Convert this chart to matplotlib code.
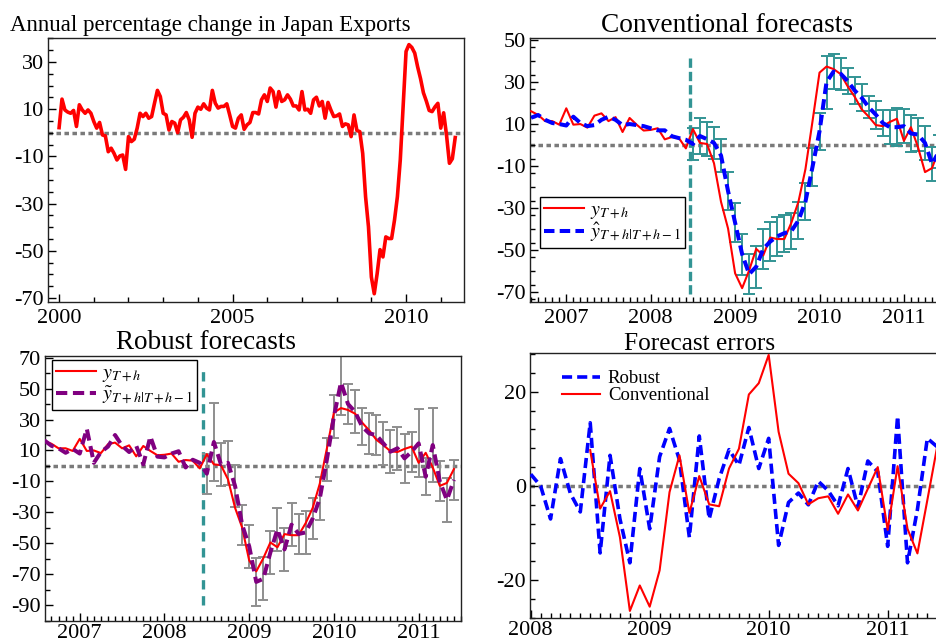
import numpy as np
import matplotlib
matplotlib.use("Agg")
import matplotlib.pyplot as plt
from matplotlib.ticker import MultipleLocator, FixedLocator

plt.rcParams["font.family"] = ["Liberation Serif", "DejaVu Serif"]
plt.rcParams["mathtext.fontset"] = "stix"
plt.rcParams["axes.unicode_minus"] = False

# ---- data (monthly) ----
# annual % change in Japan exports, 2000:01 - 2011:06
exports_start = 2000.0
exports = [
    2.2, 14.3, 9.7, 8.8, 8.3, 9.5, 2.7, 11.9, 9.7, 8.3, 9.7, 8.3,
    4.8, 2.0, 4.4, -0.9, -1.3, -8.0, -6.5, -8.7, -11.5, -9.8, -9.4, -15.5,
    -1.6, -3.7, -2.7, 2.0, 8.3, 6.9, 8.3, 6.2, 6.9, 12.6, 18.0, 15.4,
    8.3, 7.6, 1.2, 4.8, 4.1, 0.1, 5.5, 6.6, 8.6, 5.5, -1.9, 8.3,
    10.9, 10.0, 12.3, 10.5, 9.7, 18.0, 12.6, 10.5, 11.2, 11.2, 12.3, 7.6,
    2.7, 2.0, 6.2, 7.6, 1.5, 3.4, 4.4, 8.6, 8.6, 8.0, 14.0, 16.1,
    13.3, 19.0, 17.5, 10.9, 17.5, 13.3, 14.0, 16.1, 14.3, 11.4, 11.4, 9.7,
    17.5, 9.7, 10.0, 8.3, 14.0, 15.1, 11.4, 13.3, 6.2, 12.9, 9.7, 6.9,
    7.2, 8.0, 2.7, 3.8, 3.4, -1.6, 7.6, 1.0, 0.5, -8.7, -27.1, -39.8,
    -61.1, -68.2, -59.7, -49.5, -52.6, -44.1, -44.8, -44.8, -37.0, -27.1, -11.5, 11.2,
    34.5, 37.4, 36.2, 33.8, 28.0, 23.0, 17.0, 13.5, 9.5, 9.0, 11.0, 12.5,
    2.0, 8.5, -1.0, -12.9, -11.0, -2.0,
]

# one-step forecasts, 2006:08 - 2011:06
fcst_start = 2006 + 7 / 12
conv_fcst = [
    13.0, 14.3, 12.0, 10.5, 10.0,
    9.3, 13.5, 10.5, 9.0, 9.5, 12.0, 13.5, 12.0, 9.5, 10.0, 9.5, 9.0,
    8.0, 7.0, 7.0, 4.2, 3.3, 2.5, 0.5, 4.3, 2.8, 1.0, -5.0, -22.0,
    -37.0, -52.0, -61.5, -58.0, -49.5, -46.0, -43.5, -42.0, -41.0, -36.0, -27.0, -10.5,
    6.5, 30.0, 35.0, 34.0, 30.5, 26.0, 22.5, 18.0, 14.5, 10.5, 8.5, 8.5,
    9.0, 5.5, 5.0, 1.0, -9.0, -3.0,
]
robust_fcst = [
    16.5, 13.0, 11.4, 8.5, 11.0,
    8.0, 24.0, 2.0, 9.0, 12.5, 20.0, 13.0, 9.0, 13.0, 1.0, 19.0, 6.0,
    5.5, 8.0, 9.5, -1.0, 4.0, 2.0, -5.0, 15.5, 1.0, 2.0, -13.0, -38.0,
    -52.0, -75.0, -73.0, -56.0, -41.0, -54.0, -38.0, -44.0, -43.0, -34.0, -21.0, 4.0,
    32.0, 54.0, 40.0, 35.0, 25.4, 21.0, 20.0, 14.6, 9.2, 11.4, 4.9, 9.2,
    14.6, -7.0, 13.5, -10.0, -22.0, -9.0,
]

# error-band half widths for the out-of-sample part, 2008:07 - 2011:06
oos_start = 2008 + 6 / 12
conv_band = [
    7.8, 8.6, 8.1, 7.7, 8.0, 9.1,
    9.4, 9.7, 9.5, 9.9, 9.5, 9.5, 9.2, 8.8, 8.7, 8.7, 8.9, 9.0,
    8.7, 12.6, 8.2, 7.6, 6.0, 6.4, 6.4, 5.3, 6.7, 6.0, 8.0, 9.0,
    8.2, 8.7, 8.0, 8.2, 8.2, 8.0,
]
robust_band = [
    13.0, 25.0, 14.0, 14.3, 13.8, 13.0,
    13.7, 15.6, 14.0, 13.8, 14.0, 14.0, 14.0, 13.0, 14.0, 13.0, 14.0, 14.0,
    14.0, 21.0, 13.0, 14.0, 12.0, 13.0, 13.0, 14.0, 14.0, 14.0, 16.0, 13.0,
    22.0, 12.0, 24.0, 13.0, 14.0, 13.0,
]

# forecast errors
robust_err_start = 2008.0
robust_err = [
    2.5, 0.0, -7.0, 5.8, -1.6, -5.5, 13.4, -14.2, 6.5, -7.0, -16.3, 3.7,
    -9.1, 6.2, 12.2, 5.5, -10.9, 10.6, -7.0, 1.5, 7.7, 4.4, 12.4, 3.7,
    10.1, -12.6, -3.5, -1.5, -4.0, 1.0, -1.0, -4.2, 3.7, -4.5, 5.3, 3.0,
    -12.8, 14.8, -16.3, -5.0, 10.1, 8.3,
]
conv_err_start = 2008 + 6 / 12
conv_err = [
    7.6, -4.8, -1.1, -10.9, -26.5, -21.1,
    -25.6, -17.9, -1.3, 6.5, -5.7, 2.1, -3.9, -4.3, 3.7, 7.9, 19.4, 21.8,
    27.8, 11.5, 2.6, 0.6, -3.9, -2.6, -2.2, -5.9, -1.8, -5.2, -0.6, 4.0,
    -9.3, 4.2, -9.1, -14.3, -3.0, 8.4,
]

forecast_origin = 2008.46
conv_origin_span = (-71, 43)
robust_origin_span = (-90, 65)

# tick labels shown on each panel
years_p1 = [2000, 2005, 2010]
years_fc = [2007, 2008, 2009, 2010, 2011]
years_err = [2008, 2009, 2010, 2011]


def months(start, values):
    return start + np.arange(len(values)) / 12.0


W, H = 937, 643
fig = plt.figure(figsize=(W / 100, H / 100), dpi=100)


def add_axes_px(left, top, right, bottom):
    return fig.add_axes([left / W, 1 - bottom / H, (right - left) / W, (bottom - top) / H])


def style(ax, ybase, yoff, yminor, years, xminor, xpad=4):
    ax.yaxis.set_major_locator(MultipleLocator(ybase, offset=yoff))
    ax.yaxis.set_minor_locator(MultipleLocator(yminor))
    ax.xaxis.set_major_locator(FixedLocator(years))
    ax.xaxis.set_minor_locator(MultipleLocator(xminor))
    ax.tick_params(which="both", direction="in", top=False, right=False, width=1.0)
    ax.tick_params(which="major", length=6, labelsize=16)
    ax.tick_params(axis="y", which="major", pad=3)
    ax.tick_params(axis="x", which="major", pad=xpad)
    ax.tick_params(which="minor", length=3.5)
    ax.xaxis.set_major_formatter(plt.FuncFormatter(lambda v, p: f"{v:.0f}"))
    for s in ax.spines.values():
        s.set_linewidth(1.0)
        s.set_color("#222222")


def zero_line(ax):
    ax.axhline(0, color="#7a7a7a", lw=2.5, dashes=(1.3, 1.0), zorder=1)


RED = "#ff0000"
BLUE = "#0000ff"
PURPLE = "#800080"
TEAL = "#329494"
GREY = "#8e8e8e"

t_exp = months(exports_start, exports)
t_fc = months(fcst_start, conv_fcst)
t_oos = months(oos_start, conv_band)
n_pre = len(conv_fcst) - len(conv_band)
y_arr = np.array(exports)
i0 = int(round((fcst_start - exports_start) * 12))

# ---- panel 1 ----
ax1 = add_axes_px(48, 38, 464, 302)
zero_line(ax1)
ax1.plot(t_exp, exports, color=RED, lw=2.6, zorder=3)
ax1.set_xlim(1999.68, 2011.67)
ax1.set_ylim(-71.7, 40.2)
style(ax1, 20, 10, 5, years_p1, 1, xpad=5)
fig.text(10 / W, 1 - 31 / H, "Annual percentage change in Japan Exports",
         fontsize=16.5, ha="left", va="baseline")

# ---- panel 2: conventional ----
ax2 = add_axes_px(530, 38, 990, 302)
zero_line(ax2)
ax2.vlines(forecast_origin, *conv_origin_span, color=TEAL, lw=2.4,
           linestyles=[(0, (2.8, 1.2))], zorder=2)
ax2.errorbar(t_oos, np.array(conv_fcst)[n_pre:], yerr=conv_band, fmt="none",
             ecolor=TEAL, elinewidth=1.4, capsize=4.6, capthick=1.4, zorder=2)
l_red2, = ax2.plot(t_fc, y_arr[i0:i0 + len(conv_fcst)], color=RED, lw=1.5, zorder=3)
l_blue2, = ax2.plot(t_fc, conv_fcst, color=BLUE, lw=2.9, dashes=(2.6, 1.3), zorder=4)
ax2.set_xlim(2006.57, 2012.02)
ax2.set_ylim(-74.8, 51.0)
style(ax2, 20, 10, 20 / 3, years_fc, 1 / 12, xpad=5)
ax2.legend([l_red2, l_blue2], [r"$y_{T+h}$", r"$\hat{y}_{T+h|T+h-1}$"],
           loc="upper left", bbox_to_anchor=(540 / W, 1 - 197 / H),
           bbox_transform=fig.transFigure, fontsize=14.5, frameon=True,
           fancybox=False, edgecolor="black", framealpha=1, borderpad=0.2,
           borderaxespad=0, labelspacing=0.0, handlelength=2.0, handletextpad=0.3)
ax2.get_legend().get_frame().set_linewidth(1.0)
fig.text(727 / W, 1 - 32 / H, "Conventional forecasts", fontsize=19.7,
         ha="center", va="baseline")

# ---- panel 3: robust ----
ax3 = add_axes_px(45, 356, 461, 621)
zero_line(ax3)
ax3.vlines(forecast_origin, *robust_origin_span, color=TEAL, lw=2.4,
           linestyles=[(0, (2.8, 2.0))], zorder=2)
ax3.errorbar(t_oos, np.array(robust_fcst)[n_pre:], yerr=robust_band, fmt="none",
             ecolor=GREY, elinewidth=1.4, capsize=3.8, capthick=1.4, zorder=2)
l_red3, = ax3.plot(t_fc, y_arr[i0:i0 + len(robust_fcst)], color=RED, lw=1.5, zorder=3)
l_pur3, = ax3.plot(t_fc, robust_fcst, color=PURPLE, lw=2.9, dashes=(2.8, 1.4), zorder=4)
ax3.set_xlim(2006.59, 2011.50)
ax3.set_ylim(-100.3, 71.1)
style(ax3, 20, 10, 10, years_fc, 1 / 12, xpad=2.5)
ax3.legend([l_red3, l_pur3], [r"$y_{T+h}$", r"$\tilde{y}_{T+h|T+h-1}$"],
           loc="upper left", bbox_to_anchor=(52 / W, 1 - 360 / H),
           bbox_transform=fig.transFigure, fontsize=14.5, frameon=True,
           fancybox=False, edgecolor="black", framealpha=1, borderpad=0.2,
           borderaxespad=0, labelspacing=0.0, handlelength=2.0, handletextpad=0.3)
ax3.get_legend().get_frame().set_linewidth(1.0)
fig.text(206 / W, 1 - 349 / H, "Robust forecasts", fontsize=19.5,
         ha="center", va="baseline")

# ---- panel 4: forecast errors ----
ax4 = add_axes_px(530, 353, 990, 618)
zero_line(ax4)
l_rob, = ax4.plot(months(robust_err_start, robust_err), robust_err, color=BLUE,
                  lw=2.6, dashes=(2.8, 1.4), zorder=3)
l_conv, = ax4.plot(months(conv_err_start, conv_err), conv_err, color=RED, lw=1.5, zorder=4)
ax4.set_xlim(2007.994, 2011.86)
ax4.set_ylim(-28.0, 28.2)
style(ax4, 20, 0, 4, years_err, 1 / 12, xpad=2.5)
ax4.legend([l_rob, l_conv], ["Robust", "Conventional"], loc="upper left",
           bbox_to_anchor=(562 / W, 1 - 370 / H), bbox_transform=fig.transFigure,
           fontsize=13.5, frameon=False, borderpad=0, borderaxespad=0,
           labelspacing=0.0, handlelength=2.0, handletextpad=0.45)
fig.text(700 / W, 1 - 350 / H, "Forecast errors", fontsize=18.2,
         ha="center", va="baseline")

fig.savefig("out.png", dpi=100)
